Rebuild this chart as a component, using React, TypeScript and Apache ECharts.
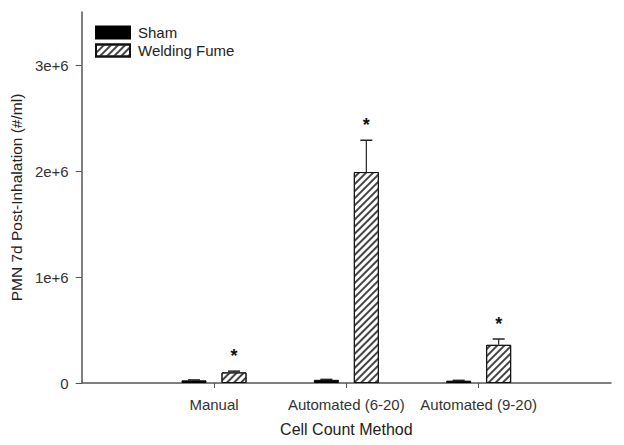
import React, { useEffect, useRef } from "react";
import * as echarts from "echarts";

const categories = ["Manual", "Automated (6-20)", "Automated (9-20)"];
const categoryPositions = [1, 2, 3];
const shamValues = [25000, 30000, 22000];
const shamErrors = [4000, 4000, 3000];
const fumeValues = [100000, 1990000, 360000];
const fumeErrors = [12000, 300000, 55000];
const significant = [true, true, true];
const yTicks = [0, 1000000, 2000000, 3000000];

const BAR_W = 25;
const OFFSET = 20;

export default function App() {
  const ref = useRef<HTMLDivElement>(null);
  useEffect(() => {
    if (!ref.current) return;
    const chart = echarts.init(ref.current, undefined, { renderer: "svg" });
    const font = "'Liberation Sans', Arial, sans-serif";
    const shamData = categoryPositions.map((p, i) => [p, shamValues[i]]);
    const fumeData = categoryPositions.map((p, i) => [p, fumeValues[i]]);
    const errData = categoryPositions.map((p, i) => [p, fumeValues[i], fumeValues[i] + fumeErrors[i], significant[i] ? 1 : 0, OFFSET]);
    const shamErrData = categoryPositions.map((p, i) => [p, shamValues[i], shamValues[i] + shamErrors[i], 0, -OFFSET]);

    const renderErr = (params: any, api: any) => {
      const x = api.value(0);
      const top = api.coord([x, api.value(2)]);
      const base = api.coord([x, api.value(1)]);
      const off = api.value(4);
      const cx = top[0] + off;
      const children: any[] = [
        { type: "line", shape: { x1: cx, y1: base[1], x2: cx, y2: top[1] }, style: { stroke: "#222", lineWidth: 1.2 } },
        { type: "line", shape: { x1: cx - 6, y1: top[1], x2: cx + 6, y2: top[1] }, style: { stroke: "#222", lineWidth: 1.5 } },
      ];
      if (api.value(3) === 1) {
        children.push({
          type: "text",
          style: { text: "*", x: cx, y: top[1] - 15, align: "center", verticalAlign: "middle", font: "bold 18px 'Liberation Sans', Arial", fill: "#111" },
        });
      }
      return { type: "group", children };
    };

    chart.setOption({
      animation: false,
      backgroundColor: "#fff",
      grid: { left: 81, right: 13, top: 12, bottom: 62 },
      legend: {
        orient: "vertical",
        left: 90,
        top: 20,
        icon: "rect",
        itemWidth: 34,
        itemHeight: 12,
        itemGap: 3,
        textStyle: { fontFamily: font, fontSize: 15, color: "#222", padding: [0, 0, 0, 3] },
        data: ["Sham", "Welding Fume"],
      },
      xAxis: {
        type: "value",
        min: 0,
        max: 4,
        interval: 1,
        name: "Cell Count Method",
        nameLocation: "middle",
        nameGap: 38,
        nameTextStyle: { fontFamily: font, fontSize: 16, color: "#222" },
        splitLine: { show: false },
        axisLine: { show: true, onZero: false, lineStyle: { color: "#555", width: 1.5 } },
        axisTick: { show: true, length: 5, lineStyle: { color: "#555" }, customValues: categoryPositions },
        axisLabel: {
          customValues: categoryPositions,
          margin: 14,
          fontFamily: font,
          fontSize: 15,
          color: "#333",
          formatter: (v: number) => {
            const i = categoryPositions.indexOf(v);
            return i >= 0 ? categories[i] : "";
          },
        },
      },
      yAxis: {
        type: "value",
        min: 0,
        max: 3500000,
        interval: 1000000,
        name: "PMN 7d Post-Inhalation (#/ml)",
        nameLocation: "middle",
        nameGap: 50,
        nameTextStyle: { fontFamily: font, fontSize: 15.5, color: "#222" },
        splitLine: { show: false },
        axisLine: { show: true, lineStyle: { color: "#555", width: 1.5 } },
        axisTick: { show: true, length: 6, lineStyle: { color: "#555" }, customValues: yTicks },
        axisLabel: {
          customValues: yTicks,
          margin: 13,
          fontFamily: font,
          fontSize: 15,
          color: "#333",
          formatter: (v: number) => (v === 0 ? "0" : `${v / 1e6}e+6`),
        },
      },
      series: [
        {
          name: "Sham",
          type: "bar",
          data: shamData,
          barWidth: BAR_W,
          barGap: "60%",
          itemStyle: { color: "#000", borderColor: "#000", borderWidth: 1 },
        },
        {
          name: "Welding Fume",
          type: "bar",
          data: fumeData,
          barWidth: BAR_W,
          barGap: "60%",
          itemStyle: {
            color: "#fff",
            borderColor: "#111",
            borderWidth: 1,
            decal: {
              symbol: "rect",
              symbolSize: 1,
              color: "#444",
              dashArrayX: [1, 0],
              dashArrayY: [1.1, 2.3],
              rotation: -Math.PI / 4,
            },
          },
        },
        {
          type: "custom",
          renderItem: renderErr,
          data: errData,
          encode: { x: 0, y: [1, 2] },
          silent: true,
          z: 5,
        },
        {
          type: "custom",
          renderItem: renderErr,
          data: shamErrData,
          encode: { x: 0, y: [1, 2] },
          silent: true,
          z: 5,
        },
      ],
    });
    return () => chart.dispose();
  }, []);
  return <div ref={ref} style={{ position: "fixed", left: 0, top: 0, width: 624, height: 445 }} />;
}
